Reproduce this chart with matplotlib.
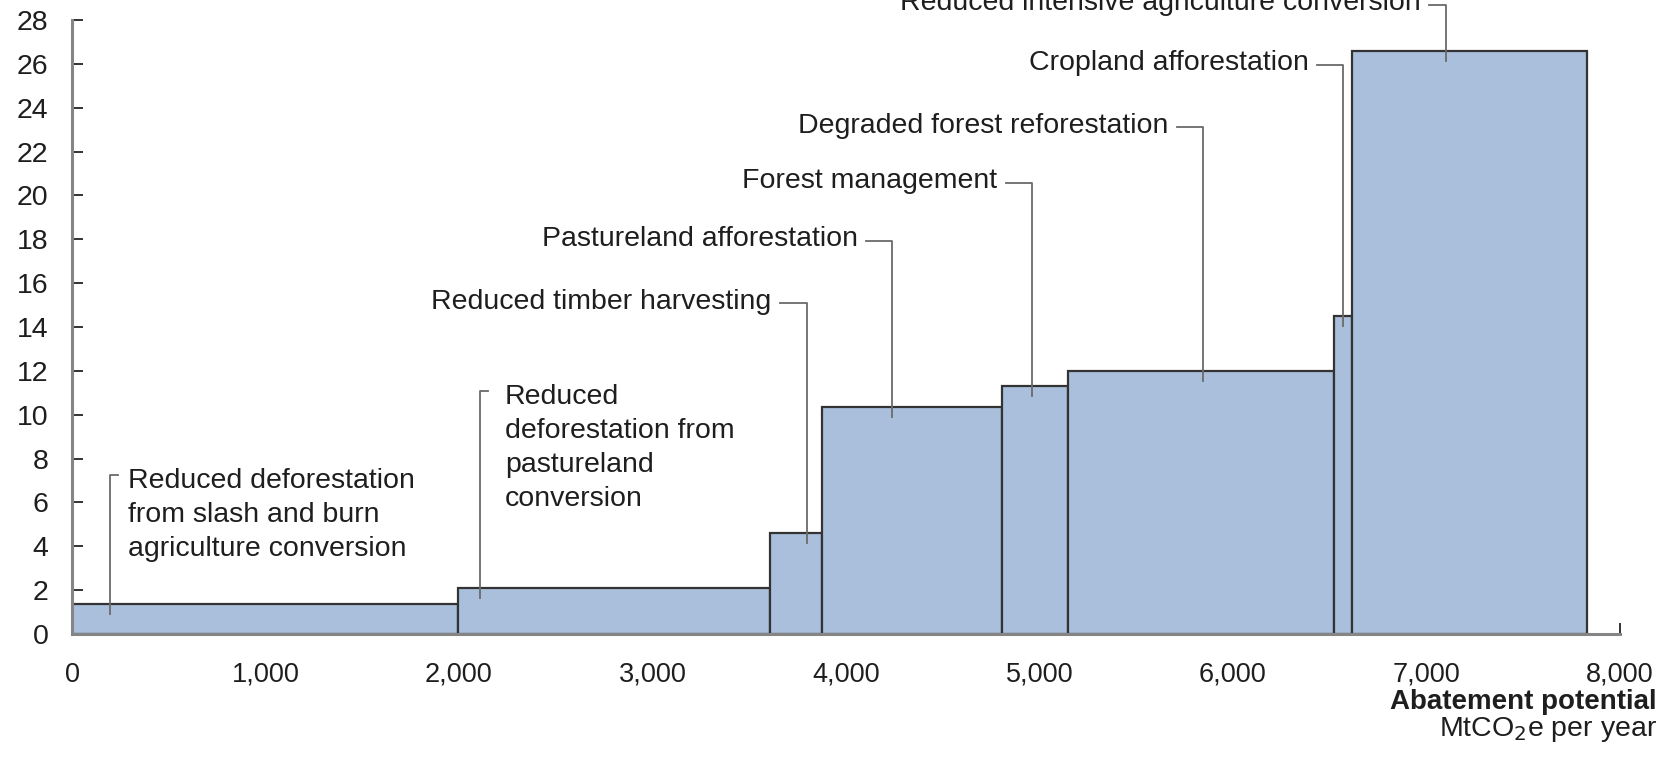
import numpy as np
import matplotlib.pyplot as plt
from matplotlib.ticker import FuncFormatter, MultipleLocator

plt.rcParams['font.family'] = ['Liberation Sans', 'DejaVu Sans']

# Abatement levers: width = potential (MtCO2e per year), height = cost
levers = [
    'Reduced deforestation\nfrom slash and burn\nagriculture conversion',
    'Reduced\ndeforestation from\npastureland\nconversion',
    'Reduced timber harvesting',
    'Pastureland afforestation',
    'Forest management',
    'Degraded forest reforestation',
    'Cropland afforestation',
    'Reduced intensive agriculture conversion',
]
potential = [1995, 1614, 266, 933, 341, 1375, 93, 1211]
cost = [1.35, 2.08, 4.6, 10.34, 11.3, 12.0, 14.5, 26.6]

x_ticks = [0, 1000, 2000, 3000, 4000, 5000, 6000, 7000, 8000]
y_ticks = list(range(0, 29, 2))

# leader layout: x of vertical leader, y of horizontal leader
leader_x = [196, 2109, 3801, 4240, 4960, 5844, 6570, 7099]
leader_y = [7.25, 11.1, 15.08, 17.92, 20.58, 23.1, 25.95, 28.68]

fill = '#aabfdb'
edge = '#333333'
leader_col = '#6a6a6a'
text_col = '#1e1e1e'

fig = plt.figure(figsize=(16.66, 7.73), dpi=100)
ax = fig.add_axes([72 / 1666, 139 / 773, 1548 / 1666, 614 / 773])

starts = np.concatenate([[0], np.cumsum(potential)[:-1]])
ax.bar(starts, cost, width=potential, align='edge', color=fill,
       edgecolor=edge, linewidth=1.6, zorder=2)

for i, label in enumerate(levers):
    vx = leader_x[i]
    hy = leader_y[i]
    y_end = cost[i] - 0.45
    if i < 2:
        # label sits to the right, leader hooks from its top-left corner
        ax.plot([vx + 42, vx, vx], [hy, hy, y_end], color=leader_col,
                lw=1.3, zorder=3, clip_on=False)
        dx = 94 if i == 0 else 129
        ax.text(vx + dx, hy + 0.32, label, ha='left', va='top',
                fontsize=20.5, color=text_col, linespacing=1.41)
    else:
        seg = 140 if i == 2 else (86 if i == 7 else 135)
        ax.plot([vx - seg, vx, vx], [hy, hy, y_end], color=leader_col,
                lw=1.3, zorder=3, clip_on=False)
        ax.text(vx - seg - 45, hy + 0.08, label, ha='right', va='center',
                fontsize=20.5, color=text_col, clip_on=False)

ax.set_xlim(0, 8000)
ax.set_ylim(0, 28)
ax.set_xticks(x_ticks)
ax.xaxis.set_minor_locator(MultipleLocator(500))
ax.set_yticks(y_ticks)
ax.xaxis.set_major_formatter(FuncFormatter(lambda v, p: f'{int(v):,}'))

for s in ['top', 'right']:
    ax.spines[s].set_visible(False)
ax.spines['left'].set_color('#858585')
ax.spines['left'].set_linewidth(2.2)
ax.spines['bottom'].set_color('#858585')
ax.spines['bottom'].set_linewidth(2.2)
ax.spines['left'].set_zorder(4)

ax.tick_params(axis='both', which='both', direction='in', color='#333333',
               width=1.4, length=8, labelcolor=text_col)
ax.tick_params(axis='x', which='both', pad=20, labelsize=19.5)
ax.tick_params(axis='y', pad=17, labelsize=20.5)

fig.text(1657 / 1666, 1 - 702 / 773, 'Abatement potential', ha='right',
         va='center', fontsize=20, fontweight='bold', color=text_col)
fig.text(1657 / 1666, 1 - 730 / 773, 'MtCO$_2$e per year', ha='right',
         va='center', fontsize=20.5, color=text_col)

fig.savefig('out.png', dpi=100)
